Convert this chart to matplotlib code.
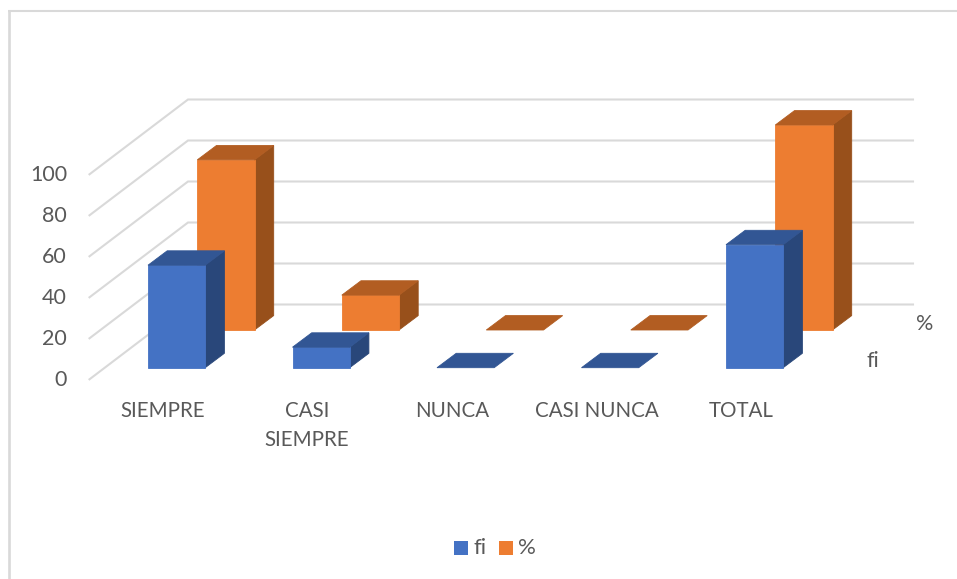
import matplotlib
matplotlib.use("Agg")
import matplotlib.pyplot as plt
from matplotlib.patches import Polygon, Rectangle

categories = ["SIEMPRE", "CASI\nSIEMPRE", "NUNCA", "CASI NUNCA", "TOTAL"]
fi_values = [50, 10, 0, 0, 60]
pct_values = [83, 17, 0, 0, 100]
y_ticks = [0, 20, 40, 60, 80, 100]
series_names = ["fi", "%"]

W, H = 957, 579
plt.rcParams["font.family"] = ["Lato", "DejaVu Sans"]
fig = plt.figure(figsize=(W / 100, H / 100), dpi=100)
ax = fig.add_axes([0, 0, 1, 1])
ax.set_xlim(0, W)
ax.set_ylim(H, 0)
ax.axis("off")

# Oblique projection of (category, series depth, value)
X0, Y0 = 148.0, 367.7
CAT_STEP = 144.5
BAR_W = 57.2
SER_DX, SER_DY = 49.3, -37.7
BAR_DX, BAR_DY = 19.2, -14.4
PX_PER_UNIT = 2.05


def proj(cat, series, value, depth=0.0):
    return (X0 + CAT_STEP * cat + SER_DX * series + BAR_DX * depth,
            Y0 + SER_DY * series - PX_PER_UNIT * value + BAR_DY * depth)


GRID = "#d9d9d9"
TEXT = "#595959"
FL_X, FL_Y = 89.5, 379.3
BK_X, BK_Y = 188.0, 304.5
END_X = 913.0
for t in y_ticks:
    dy = PX_PER_UNIT * t
    ax.plot([FL_X, BK_X, END_X], [FL_Y - dy, BK_Y - dy, BK_Y - dy],
            color=GRID, lw=1.5, solid_joinstyle="miter", zorder=1)
    ax.text(67, FL_Y - dy + 0.8, str(t), ha="right", va="center",
            fontsize=15.5, color=TEXT)


def bar(cat, series, value, front, top, side, z):
    p = lambda c, v, d: proj(cat + c * BAR_W / CAT_STEP, series, v, d)
    outline = dict(linewidth=0.6, joinstyle="miter", zorder=z)
    if value > 0:
        ax.add_patch(Polygon([p(1, 0, 0), p(1, 0, 1), p(1, value, 1), p(1, value, 0)],
                             facecolor=side, edgecolor=side, **outline))
        ax.add_patch(Rectangle(p(0, value, 0), BAR_W, PX_PER_UNIT * value,
                               facecolor=front, edgecolor=front, **outline))
    ax.add_patch(Polygon([p(0, value, 0), p(1, value, 0), p(1, value, 1), p(0, value, 1)],
                         facecolor=top, edgecolor=top, **outline))


for i, v in enumerate(pct_values):
    bar(i, 1, v, "#ed7d31", "#b25d22", "#98501b", 2 + i * 0.01)
for i, v in enumerate(fi_values):
    bar(i, 0, v, "#4472c4", "#325694", "#29477a", 3 + i * 0.01)

# Category labels
LABEL_SIZE = 14.8
label_x = [162.5, 307, 452, 596.5, 741.5]
for x, c in zip(label_x, categories):
    if "\n" in c:
        a, b = c.split("\n")
        ax.text(x, 411, a, ha="center", va="center", fontsize=LABEL_SIZE, color=TEXT)
        ax.text(x, 440, b, ha="center", va="center", fontsize=LABEL_SIZE, color=TEXT)
    else:
        ax.text(x, 411, c, ha="center", va="center", fontsize=LABEL_SIZE, color=TEXT)

# Series (depth axis) labels
ax.text(873, 361, series_names[0], ha="center", va="center", fontsize=15.5, color=TEXT)
ax.text(925, 324, series_names[1], ha="center", va="center", fontsize=15.5, color=TEXT)

# Legend
ax.add_patch(Rectangle((454, 541), 14, 14, facecolor="#4472c4", edgecolor="none"))
ax.text(473, 548, series_names[0], ha="left", va="center", fontsize=16, color=TEXT)
ax.add_patch(Rectangle((499, 541), 14, 14, facecolor="#ed7d31", edgecolor="none"))
ax.text(518, 548, series_names[1], ha="left", va="center", fontsize=16, color=TEXT)

# Chart frame: only the left and top edges are visible
ax.plot([9.3, 9.3], [H, 10], color=GRID, lw=1.9, solid_capstyle="butt", zorder=0)
ax.plot([8, W], [11, 11], color=GRID, lw=1.5, solid_capstyle="butt", zorder=0)

fig.savefig("out.png", dpi=100)
